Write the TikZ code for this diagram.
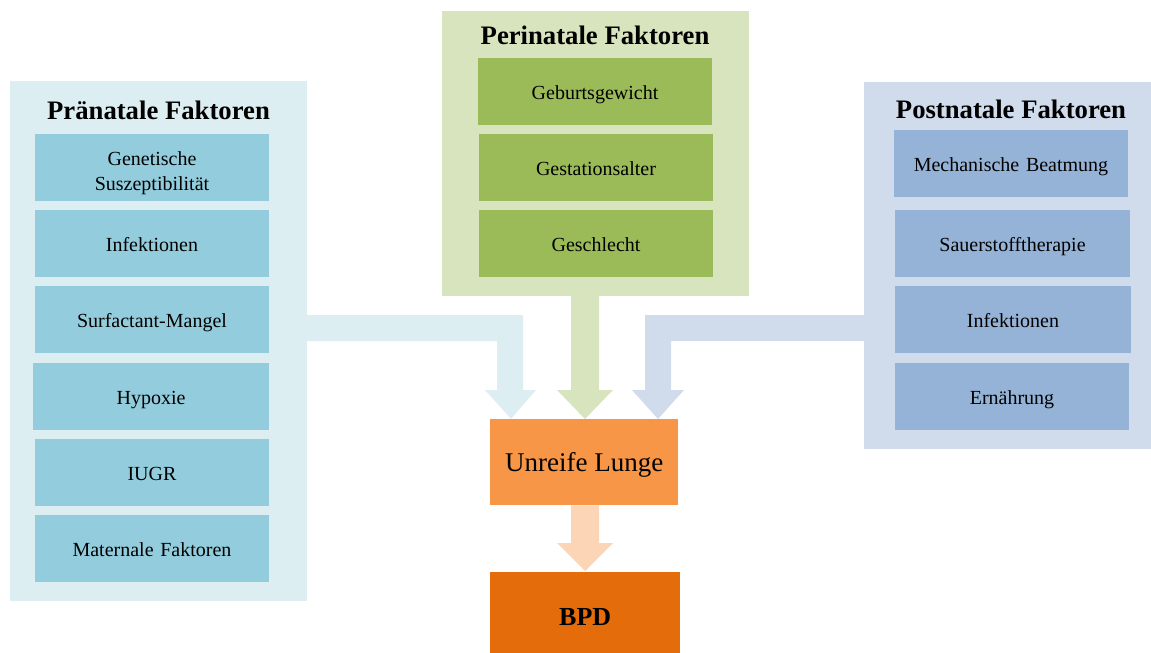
\documentclass[tikz,border=0pt]{standalone}
\usepackage{fontspec}
\setmainfont{Liberation Serif}
\usetikzlibrary{calc}

\definecolor{preBg}{HTML}{DDEEF3}
\definecolor{preBox}{HTML}{93CDDD}
\definecolor{periBg}{HTML}{D7E4BD}
\definecolor{periBox}{HTML}{9BBB59}
\definecolor{postBg}{HTML}{D0DCEB}
\definecolor{postBox}{HTML}{95B3D7}
\definecolor{lungFill}{HTML}{F79646}
\definecolor{bpdFill}{HTML}{E46C0A}
\definecolor{peach}{HTML}{FBD5B5}

\begin{document}
\begin{tikzpicture}[x=1pt,y=-1pt,
  panel/.style={fill=#1, inner sep=0pt, outer sep=0pt, anchor=north west},
  factor/.style={fill=#1, inner sep=0pt, outer sep=0pt, anchor=north west,
    minimum height=67pt, text width=220pt, align=center,
    text height=17pt, text depth=0.4pt,
    font=\fontsize{20}{25.7}\selectfont},
  heading/.style={anchor=base, inner sep=0pt, font=\fontsize{26.7}{30}\selectfont\bfseries},
]
\useasboundingbox (0,0) rectangle (1151,653);

% --- pränatal ---
\node[panel=preBg, minimum width=297pt, minimum height=520pt] (pre) at (10,81) {};
\node[heading] (preT) at (158.5,119) {Pränatale Faktoren};
\node[factor=preBox, minimum width=234pt, text height=14pt, text depth=18.6pt] (p1) at (35,134) {Genetische\\Suszeptibilität};
\node[factor=preBox, minimum width=234pt] (p2) at (35,210) {Infektionen};
\node[factor=preBox, minimum width=234pt] (p3) at (35,286) {Surfactant-Mangel};
\node[factor=preBox, minimum width=236pt] (p4) at (33,363) {Hypoxie};
\node[factor=preBox, minimum width=234pt] (p5) at (35,439) {IUGR};
\node[factor=preBox, minimum width=234pt] (p6) at (35,515) {Maternale Faktoren};

% --- perinatal ---
\node[panel=periBg, minimum width=307pt, minimum height=285pt] (peri) at (442,11) {};
\node[heading] (periT) at (595,44) {Perinatale Faktoren};
\node[factor=periBox, minimum width=234pt] (m1) at (478,58) {Geburtsgewicht};
\node[factor=periBox, minimum width=234pt] (m2) at (479,134) {Gestationsalter};
\node[factor=periBox, minimum width=234pt] (m3) at (479,210) {Geschlecht};

% --- postnatal ---
\node[panel=postBg, minimum width=287pt, minimum height=367pt] (post) at (864,82) {};
\node[heading] (postT) at (1011,118.5) {Postnatale Faktoren};
\node[factor=postBox, minimum width=234pt] (n1) at (894,130) {Mechanische Beatmung};
\node[factor=postBox, minimum width=235pt] (n2) at (895,210) {Sauerstofftherapie};
\node[factor=postBox, minimum width=236pt] (n3) at (895,286) {Infektionen};
\node[factor=postBox, minimum width=234pt] (n4) at (895,363) {Ernährung};

% --- outcome ---
\node[fill=lungFill, inner sep=0pt, anchor=north west, minimum width=188pt, minimum height=86pt,
  text height=20pt, text depth=0.6pt,
  font=\fontsize{27}{30}\selectfont] (lung) at (490,419) {Unreife Lunge};
\node[fill=bpdFill, inner sep=0pt, anchor=north west, minimum width=190pt, minimum height=81pt,
  text height=25.4pt, text depth=0pt,
  font=\fontsize{26}{30}\selectfont\bfseries] (bpd) at (490,572) {BPD};

% --- block arrows ---
\fill[preBg] (pre.east |- 0,315) -- (523,315) -- (523,390) -- (536,390)
  -- (511,0 |- lung.north) -- (485,390) -- (497,390) -- (497,341)
  -- (pre.east |- 0,341) -- cycle;
\fill[periBg] (571,0 |- peri.south) -- (599,0 |- peri.south) -- (599,390) -- (613,390)
  -- (585,0 |- lung.north) -- (557,390) -- (571,390) -- cycle;
\fill[postBg] (post.west |- 0,315) -- (645,315) -- (645,390) -- (632,390)
  -- (658,0 |- lung.north) -- (684,390) -- (671,390) -- (671,341)
  -- (post.west |- 0,341) -- cycle;
\fill[peach] (571,0 |- lung.south) -- (599,0 |- lung.south) -- (599,543) -- (613,543)
  -- (585,571) -- (557,543) -- (571,543) -- cycle;
\end{tikzpicture}
\end{document}
